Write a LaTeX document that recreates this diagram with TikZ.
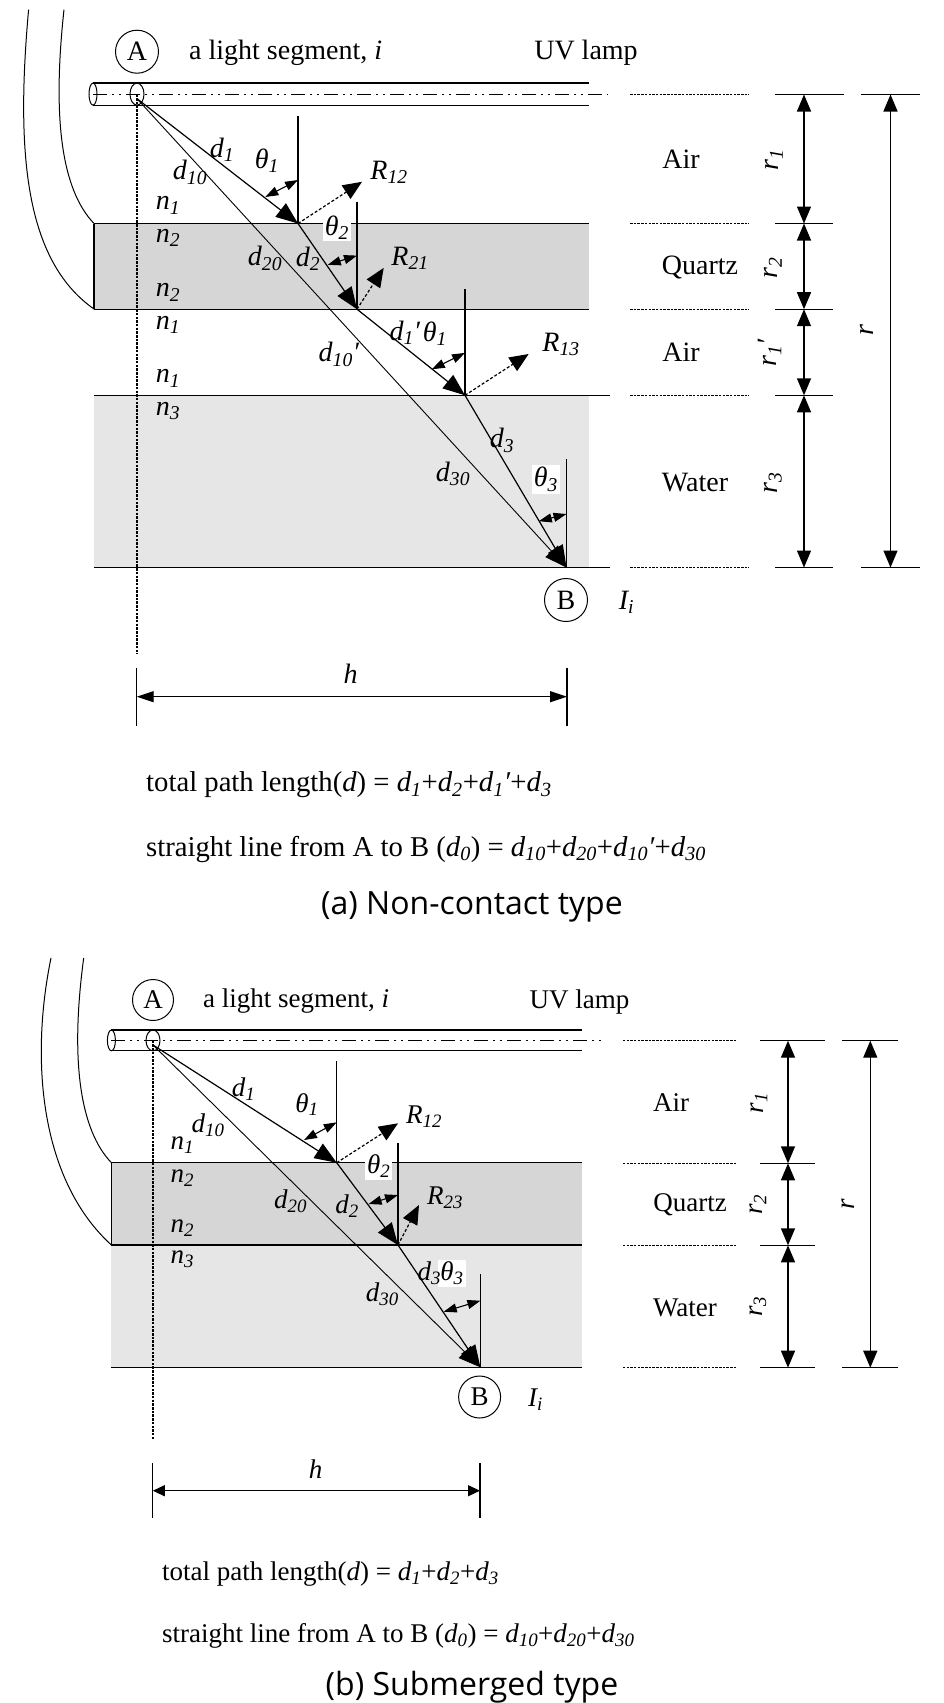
\documentclass[tikz,border=0pt]{standalone}
\usepackage{fontspec}
\setmainfont{Liberation Serif}
\newfontfamily\capfont{Open Sans}
\usepackage{xcolor}
\usepackage{tikz}
\usetikzlibrary{arrows.meta}
\definecolor{quartzgray}{HTML}{D6D6D6}
\definecolor{watergray}{HTML}{E6E6E6}
\newcommand{\lbl}[2]{\textit{#1\textsubscript{#2}}}
\tikzset{
lab/.style = {inner sep=0pt, yshift=-1.5pt, font=\fontsize{#1}{#1}\selectfont},
lab/.default = 28 % size of the text
}
\tikzset{
mark circle/.style = {circle, draw=black, line width=1pt, minimum size=#1, inner sep=0pt},
mark circle/.default = 43pt
}
\tikzset{
ray/.style = {line width=1.2pt, -{Triangle[length=22pt,width=17pt]}},
straightray/.style = {line width=0.9pt, -{Triangle[length=22pt,width=17pt]}},
refl/.style = {line width=1.2pt, dash pattern=on 3pt off 2pt, -{Triangle[length=19pt,width=16pt]}},
angarrow/.style = {line width=1.1pt, {Triangle[length=13pt,width=9pt]}-{Triangle[length=13pt,width=9pt]}},
dimarrow/.style = {line width=1.4pt, {Triangle[length=17pt,width=14pt]}-{Triangle[length=17pt,width=14pt]}},
hline/.style = {line width=1.05pt},
dotline/.style = {line width=1.2pt, dash pattern=on 2.5pt off 1.2pt},
axisline/.style = {line width=1.2pt, dash pattern=on 14pt off 5pt on 2pt off 5pt on 2pt off 5pt}
}

\begin{document}
\begin{tikzpicture}[x=1pt,y=-1pt]
\useasboundingbox (0,0) rectangle (943,1703);

% (a) Non-contact type
\fill[quartzgray] (94,223.5) rectangle (588.6,309.2);
\fill[watergray] (94,395.3) rectangle (588.6,567.5);

\coordinate (aSrc) at (137,98.7);
\coordinate (aP1) at (298,223.5);
\coordinate (aP2) at (357,309.2);
\coordinate (aP3) at (465,395.3);
\coordinate (aEnd) at (566.5,567.5);

\node[mark circle] (aA) at (137,51.7) {\fontsize{28}{28}\selectfont A};
\node[lab, anchor=west] (aSegment) at (189,51.7) {a light segment, \textit{i}};
\node[lab] (aLamp) at (586,51.7) {UV lamp};

\draw[hline] (93,83) -- (588.6,83);
\draw[hline] (93,105.2) -- (588.6,105.2);
\draw[line width=1pt] (93,94.1) ellipse (4 and 11);
\draw[line width=1pt] (137,94.1) ellipse (7 and 11);
\draw[axisline] (93,94.5) -- (608,94.5);
\draw[dotline] (137,94.5) -- (137,654);

\draw[line width=1pt] (28.6,9.6) .. controls (16,150) and (24,260) .. (94,309);
\draw[line width=1pt] (64,9.6) .. controls (52,120) and (62,190) .. (94,223.5);

\draw[hline] (94,223.5) -- (588.6,223.5);
\draw[hline] (94,309.2) -- (588.6,309.2);
\draw[hline] (94,223.5) -- (94,309.2);
\draw[hline] (94,395.3) -- (610,395.3);
\draw[hline] (94,567.5) -- (610,567.5);

\node[lab, fill=white, inner sep=2pt] (aThetaTwo) at (337,226) {\lbl{θ}{2}};
\node[lab, fill=white, inner sep=2pt] (aThetaThree) at (546,478) {\lbl{θ}{3}};

\draw[hline] (aP1) -- (298,116);
\draw[hline] (aP2) -- (357,202);
\draw[hline] (aP3) -- (465,289);
\draw[hline] (aEnd) -- (566.5,459);

\draw[ray] (aSrc) -- (aP1);
\draw[ray] (aP1) -- (aP2);
\draw[ray] (aP2) -- (aP3);
\draw[ray] (aP3) -- (aEnd);
\draw[straightray] (aSrc) -- (aEnd);

\draw[refl] (aP1) -- (362,181.8);
\draw[refl] (aP2) -- (383.7,267.9);
\draw[refl] (aP3) -- (528.6,354);

\draw[angarrow] (265.3,197) -- (298,180);
\draw[angarrow] (327.8,264.8) -- (357,255.6);
\draw[angarrow] (431.8,369.3) -- (465,352.9);
\draw[angarrow] (538.8,521.2) -- (566.5,514);

\node[lab] (aDOne) at (222,148.5) {\lbl{d}{1}};
\node[lab] (aDTen) at (190,171) {\lbl{d}{10}};
\node[lab] (aThetaOne) at (267,159) {\lbl{θ}{1}};
\node[lab] (aRTwelve) at (389,171) {\lbl{R}{12}};
\node[lab] (aNa) at (168,204) {\lbl{n}{1}};
\node[lab] (aNb) at (168,236.5) {\lbl{n}{2}};
\node[lab] (aDTwenty) at (265,257) {\lbl{d}{20}};
\node[lab] (aDTwo) at (308,257) {\lbl{d}{2}};
\node[lab] (aRTwentyOne) at (410,257) {\lbl{R}{21}};
\node[lab] (aNc) at (168,291) {\lbl{n}{2}};
\node[lab] (aNd) at (168,323.4) {\lbl{n}{1}};
\node[lab] (aDOneP) at (405,331) {\lbl{d}{1}\textit{′}};
\node[lab] (aThetaOneP) at (435,332) {\lbl{θ}{1}};
\node[lab] (aRThirteen) at (561,343) {\lbl{R}{13}};
\node[lab] (aDTenP) at (339,353) {\lbl{d}{10}\textit{′}};
\node[lab] (aNe) at (168,377) {\lbl{n}{1}};
\node[lab] (aNf) at (168,409.5) {\lbl{n}{3}};
\node[lab] (aDThree) at (502,439) {\lbl{d}{3}};
\node[lab] (aDThirty) at (453,472.6) {\lbl{d}{30}};

\node[mark circle] (aB) at (566,600) {\fontsize{28}{28}\selectfont B};
\node[lab] (aI) at (626.5,600.7) {\lbl{I}{i}};

% layer marks on the right
\foreach \yy/\xend in {94.5/844,223.5/833,309.2/833,395.3/833,567.5/833} {
  \draw[dotline] (630,\yy) -- (748.5,\yy);
  \draw[hline] (775,\yy) -- (\xend,\yy);
}
\draw[hline] (861,94.5) -- (919.5,94.5);
\draw[hline] (861,567.5) -- (919.5,567.5);
\coordinate (aT1) at (804,94.5);
\coordinate (aT2) at (804,223.5);
\coordinate (aT3) at (804,309.2);
\coordinate (aT4) at (804,395.3);
\coordinate (aT5) at (804,567.5);
\draw[dimarrow] (aT1) -- (aT2);
\draw[dimarrow] (aT2) -- (aT3);
\draw[dimarrow] (aT3) -- (aT4);
\draw[dimarrow] (aT4) -- (aT5);
\draw[dimarrow] (890.5,94.5) -- (890.5,567.5);

\node[lab] (aAirOne) at (681,158) {Air};
\node[lab] (aQuartz) at (700,266) {Quartz};
\node[lab] (aAirTwo) at (681,351) {Air};
\node[lab] (aWater) at (695,481) {Water};
\node[lab, rotate=90] (aROne) at (774,158) {\lbl{r}{1}};
\node[lab, rotate=90] (aRTwo) at (773,266) {\lbl{r}{2}};
\node[lab, rotate=90] (aROneP) at (770,351) {\lbl{r}{1}\textit{′}};
\node[lab, rotate=90] (aRThree) at (773,481) {\lbl{r}{3}};
\node[lab, rotate=90] (aR) at (867,329) {\textit{r}};

\coordinate (aHa) at (136.7,696.7);
\coordinate (aHb) at (567,696.7);
\draw[hline] (136.7,667.7) -- (136.7,725.7);
\draw[hline] (567,667.7) -- (567,725.7);
\draw[line width=1.2pt, {Triangle[length=17pt,width=11pt]}-{Triangle[length=17pt,width=11pt]}] (aHa) -- (aHb);
\node[lab] (aH) at (350.7,672) {\textit{h}};

\node[lab=28.7, anchor=west] (aTotal) at (146,783.5) {total path length(\textit{d}) = \lbl{d}{1}+\lbl{d}{2}+\lbl{d}{1}\textit{′}+\lbl{d}{3}};
\node[lab=28.7, anchor=west] (aLine) at (146,847.5) {straight line from A to B (\lbl{d}{0}) = \lbl{d}{10}+\lbl{d}{20}+\lbl{d}{10}\textit{′}+\lbl{d}{30}};
\node[inner sep=0pt, font=\capfont\fontsize{32}{32}\selectfont] (aCaption) at (472,907) {(a) Non-contact type};

% (b) Submerged type
\fill[quartzgray] (111.4,1162.7) rectangle (581.6,1245);
\fill[watergray] (111.4,1245) rectangle (581.6,1367.3);

\coordinate (bSrc) at (153,1045);
\coordinate (bP1) at (336.7,1162.7);
\coordinate (bP2) at (398,1245);
\coordinate (bEnd) at (480.4,1367.3);

\node[mark circle=41pt] (bA) at (153,1000) {\fontsize{27}{27}\selectfont A};
\node[lab=27, anchor=west] (bSegment) at (203,1000) {a light segment, \textit{i}};
\node[lab=27] (bLamp) at (579.6,1000) {UV lamp};

\draw[hline] (111.4,1030) -- (581.6,1030);
\draw[hline] (111.4,1050.7) -- (581.6,1050.7);
\draw[line width=1pt] (111.4,1040.4) ellipse (4 and 10.4);
\draw[line width=1pt] (153,1040.4) ellipse (7 and 10.4);
\draw[axisline] (111.4,1040.7) -- (602,1040.7);
\draw[dotline] (153,1040.7) -- (153,1440);

\draw[line width=1pt] (51,958) .. controls (30,1060) and (40,1180) .. (111.4,1245);
\draw[line width=1pt] (83.7,958) .. controls (70,1060) and (80,1130) .. (111.4,1162.7);

\draw[hline] (111.4,1162.7) -- (581.6,1162.7);
\draw[hline] (111.4,1245) -- (581.6,1245);
\draw[hline] (111.4,1162.7) -- (111.4,1245);
\draw[hline] (111.4,1367.3) -- (581.6,1367.3);

\node[lab=27, fill=white, inner sep=2pt] (bThetaTwo) at (378.8,1165) {\lbl{θ}{2}};
\node[lab=27, fill=white, inner sep=2pt] (bThetaThree) at (452,1271.7) {\lbl{θ}{3}};

\draw[hline] (bP1) -- (336.7,1061);
\draw[hline] (bP2) -- (398,1142.7);
\draw[hline] (bEnd) -- (480.4,1274);

\draw[ray] (bSrc) -- (bP1);
\draw[ray] (bP1) -- (bP2);
\draw[ray] (bP2) -- (bEnd);
\draw[straightray] (bSrc) -- (bEnd);

\draw[refl] (bP1) -- (398,1123.3);
\draw[refl] (bP2) -- (419,1205);

\draw[angarrow] (304,1140) -- (336.7,1122.3);
\draw[angarrow] (368.6,1204) -- (398,1195);
\draw[angarrow] (443.7,1311.7) -- (480.4,1300.7);

\node[lab=27] (bDOne) at (243.7,1087.7) {\lbl{d}{1}};
\node[lab=27] (bThetaOne) at (307,1103) {\lbl{θ}{1}};
\node[lab=27] (bRTwelve) at (424,1115) {\lbl{R}{12}};
\node[lab=27] (bDTen) at (208,1124) {\lbl{d}{10}};
\node[lab=27] (bNa) at (182.4,1144) {\lbl{n}{1}};
\node[lab=27] (bNb) at (182.4,1176.7) {\lbl{n}{2}};
\node[lab=27] (bDTwenty) at (290.6,1200) {\lbl{d}{20}};
\node[lab=27] (bDTwo) at (347,1205) {\lbl{d}{2}};
\node[lab=27] (bRTwentyThree) at (445,1196.7) {\lbl{R}{23}};
\node[lab=27] (bNc) at (182.4,1226.7) {\lbl{n}{2}};
\node[lab=27] (bNd) at (182.4,1258) {\lbl{n}{3}};
\node[lab=27] (bDThree) at (429.4,1271.7) {\lbl{d}{3}};
\node[lab=27] (bDThirty) at (382.4,1293) {\lbl{d}{30}};

\node[mark circle=42pt] (bB) at (479.6,1397) {\fontsize{27}{27}\selectfont B};
\node[lab=27] (bI) at (535.5,1398) {\lbl{I}{i}};

% layer marks on the right
\foreach \yy/\xend in {1040.7/825,1163.3/815,1245.3/815,1367.7/815} {
  \draw[dotline] (622.8,\yy) -- (736.3,\yy);
  \draw[hline] (760,\yy) -- (\xend,\yy);
}
\draw[hline] (842,1040.7) -- (897.5,1040.7);
\draw[hline] (842,1367.7) -- (897.5,1367.7);
\coordinate (bT1) at (788,1040.7);
\coordinate (bT2) at (788,1163.3);
\coordinate (bT3) at (788,1245.3);
\coordinate (bT4) at (788,1367.7);
\draw[dimarrow] (bT1) -- (bT2);
\draw[dimarrow] (bT2) -- (bT3);
\draw[dimarrow] (bT3) -- (bT4);
\draw[dimarrow] (870.3,1040.7) -- (870.3,1367.7);

\node[lab=27] (bAir) at (671,1101) {Air};
\node[lab=27] (bQuartz) at (690,1203) {Quartz};
\node[lab=27] (bWater) at (685,1306) {Water};
\node[lab=27, rotate=90] (bROne) at (759,1101.7) {\lbl{r}{1}};
\node[lab=27, rotate=90] (bRTwo) at (758,1203) {\lbl{r}{2}};
\node[lab=27, rotate=90] (bRThree) at (758,1305) {\lbl{r}{3}};
\node[lab=27, rotate=90] (bR) at (848.6,1202.7) {\textit{r}};

\coordinate (bHa) at (152.8,1490.7);
\coordinate (bHb) at (480,1490.7);
\draw[hline] (152.8,1463.3) -- (152.8,1517.7);
\draw[hline] (480,1463.3) -- (480,1517.7);
\draw[line width=1.2pt, {Triangle[length=12pt,width=11pt]}-{Triangle[length=12pt,width=11pt]}] (bHa) -- (bHb);
\node[lab=27] (bH) at (315.5,1467.7) {\textit{h}};

\node[lab=27, anchor=west] (bTotal) at (162,1573) {total path length(\textit{d}) = \lbl{d}{1}+\lbl{d}{2}+\lbl{d}{3}};
\node[lab=27, anchor=west] (bLine) at (162,1634.5) {straight line from A to B (\lbl{d}{0}) = \lbl{d}{10}+\lbl{d}{20}+\lbl{d}{30}};
\node[inner sep=0pt, font=\capfont\fontsize{32}{32}\selectfont] (bCaption) at (472,1687) {(b) Submerged type};
\end{tikzpicture}
\end{document}
